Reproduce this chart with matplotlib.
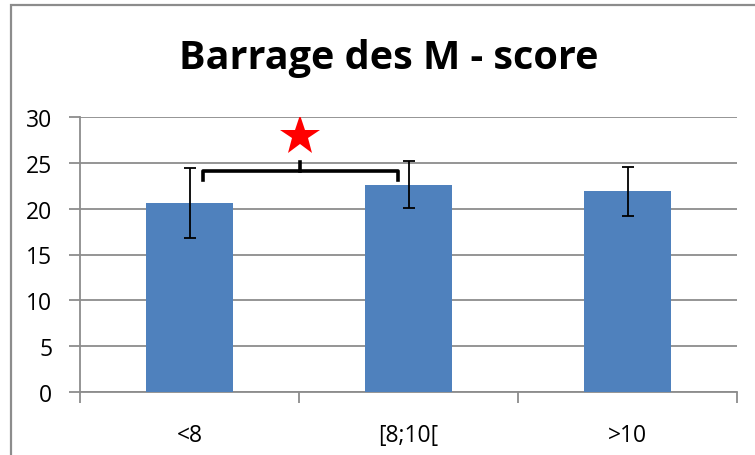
import matplotlib
matplotlib.use("Agg")
import matplotlib.pyplot as plt
from matplotlib.patches import Rectangle

# données
categories = ["<8", "[8;10[", ">10"]
scores = [20.6, 22.6, 21.9]
errors = [3.85, 2.55, 2.65]
yticks = [0, 5, 10, 15, 20, 25, 30]
title = "Barrage des M - score"

# comparaison significative entre <8 et [8;10[
brace_pair = (0, 1)
brace_y = 24.1
star_y = 27.9

plt.rcParams['font.family'] = ['Open Sans', 'DejaVu Sans']

fig = plt.figure(figsize=(7.55, 4.56), dpi=100)
ax = fig.add_axes([80 / 755, 1 - 393 / 456, 657 / 755, 275 / 456])

# cadre gris du graphique
fig.patches.append(Rectangle((11 / 755, -0.1), 2, 1.1 - 6 / 456,
                             transform=fig.transFigure, fill=False,
                             edgecolor="#8c8c8c", linewidth=1.6))

x = range(len(categories))
ax.bar(x, scores, width=0.4, color="#4F81BD", zorder=3)
ax.errorbar(x, scores, yerr=errors, fmt="none", ecolor="black",
            elinewidth=1.3, capsize=4.5, capthick=1.3, zorder=4)

# accolade + étoile
x0, x1 = brace_pair[0] + 0.06, brace_pair[1] - 0.05
xm = (brace_pair[0] + brace_pair[1]) / 2 + 0.005
ax.plot([x0, x0, x1, x1], [brace_y - 1.0, brace_y, brace_y, brace_y - 1.0],
        color="black", lw=2.6, solid_joinstyle="round", zorder=5)
ax.plot([xm, xm], [brace_y, brace_y + 1.0], color="black", lw=2.6, zorder=5)
ax.plot([xm], [star_y], marker="*", color="red", markersize=30,
        markeredgewidth=0, zorder=6)

ax.set_xlim(-0.5, len(categories) - 0.5)
ax.set_ylim(0, 30)
ax.set_yticks(yticks)
ax.set_xticks(x)
ax.set_xticklabels(categories)
ax.set_xticks([i - 0.5 for i in range(len(categories) + 1)], minor=True)
ax.tick_params(axis="x", which="major", length=0, pad=22, labelsize=16.5)
ax.tick_params(axis="x", which="minor", length=8, color="#8c8c8c", width=1.3)
ax.tick_params(axis="y", length=8, color="#8c8c8c", width=1.3, pad=12,
               labelsize=16.5)

ax.grid(axis="y", color="#8c8c8c", linewidth=1.3, zorder=0)
for side in ["top", "right"]:
    ax.spines[side].set_visible(False)
for side in ["left", "bottom"]:
    ax.spines[side].set_color("#8c8c8c")
    ax.spines[side].set_linewidth(1.3)

fig.text(389 / 755, 1 - 58 / 456, title, ha="center", va="center",
         fontsize=28.5, fontweight="bold")

fig.savefig("out.png", dpi=100)
